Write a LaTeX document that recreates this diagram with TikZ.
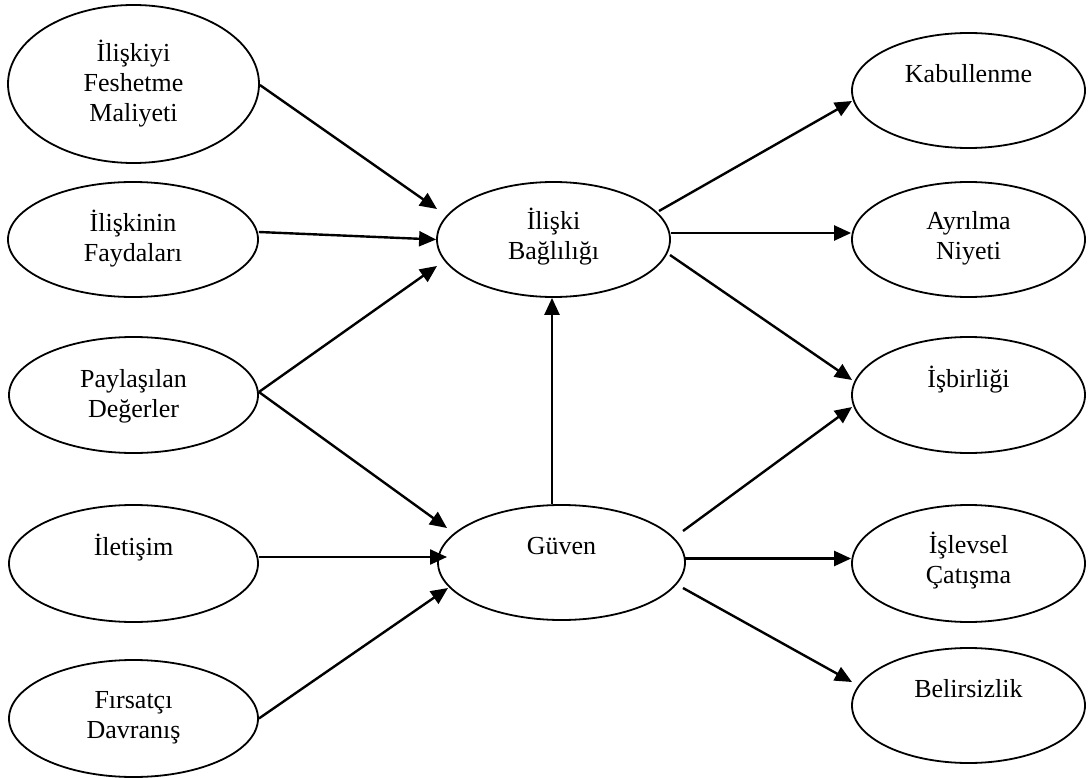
\documentclass[tikz,border=0pt]{standalone}
\usepackage{fontspec}
\setmainfont{Liberation Serif}
\usetikzlibrary{shapes.geometric,arrows.meta,calc}
% centred lines, the box baseline being that of the first line
\newcommand\ovaltext[1]{\vtop{\halign{\hfil##\hfil\cr#1\crcr}}}
\begin{document}
\begin{tikzpicture}[x=1pt,y=-1pt,
  oval/.style={draw,ellipse,line width=1.8pt,inner sep=0pt,minimum width=233pt,minimum height=115pt},
  lbl/.style={anchor=base,inner sep=0pt,font=\fontsize{26}{30}\selectfont},
  link/.style={line width=2.4pt,-{Triangle[length=17pt,width=15pt]}}]
\useasboundingbox (0,0) rectangle (1090,778);

% antecedents
\node[oval,minimum width=251pt,minimum height=158pt] (fes) at (133.5,84) {};
\node[oval,minimum width=250pt] (fay) at (133,239.5) {};
\node[oval,minimum width=249pt,minimum height=116pt] (pay) at (133.5,395) {};
\node[oval,minimum width=249pt,minimum height=117pt] (ile) at (133.5,563.5) {};
\node[oval,minimum width=249pt,minimum height=117pt] (fir) at (133.5,718.5) {};

% mediators
\node[oval] (bag) at (553.5,239.5) {};
\node[oval,minimum width=247pt] (guv) at (561.5,562.5) {};

% outcomes
\node[oval] (kab) at (968.5,90.5) {};
\node[oval] (ayr) at (968.5,239.5) {};
\node[oval,minimum height=116pt] (isb) at (968.5,395) {};
\node[oval,minimum height=117pt] (isl) at (968.5,563.5) {};
\node[oval] (bel) at (968.5,705.5) {};

% texts
\node[lbl] (fes-t) at ($(fes.center)+(0,-22)$) {\ovaltext{İlişkiyi\cr Feshetme\cr Maliyeti}};
\node[lbl] (fay-t) at ($(fay.center)+(0,-8)$) {\ovaltext{İlişkinin\cr Faydaları}};
\node[lbl] (pay-t) at ($(pay.center)+(0,-8)$) {\ovaltext{Paylaşılan\cr Değerler}};
\node[lbl] (ile-t) at ($(ile.center)+(0,-8)$) {İletişim};
\node[lbl] (fir-t) at ($(fir.center)+(0,-10)$) {\ovaltext{Fırsatçı\cr Davranış}};
\node[lbl] (bag-t) at ($(bag.center)+(0,-9.5)$) {\ovaltext{İlişki\cr Bağlılığı}};
\node[lbl] (guv-t) at ($(guv.center)+(0,-8.5)$) {Güven};
\node[lbl] (kab-t) at ($(kab.center)+(0,-8)$) {Kabullenme};
\node[lbl] (ayr-t) at ($(ayr.center)+(0,-9.5)$) {\ovaltext{Ayrılma\cr Niyeti}};
\node[lbl] (isb-t) at ($(isb.center)+(0,-8)$) {İşbirliği};
\node[lbl] (isl-t) at ($(isl.center)+(0,-10)$) {\ovaltext{İşlevsel\cr Çatışma}};
\node[lbl] (bel-t) at ($(bel.center)+(0,-8.5)$) {Belirsizlik};

% paths into the relationship commitment
\draw[link] ($(fes.east)+(0,1)$) -- ($(bag.center)+(-116.5,-30.5)$);
\draw[link] ($(fay.east)+(0,-7.5)$) -- (bag.west);
\draw[link] ($(pay.east)+(0,-3)$) -- ($(bag.center)+(-116.5,26.5)$);

% paths into trust
\draw[link] ($(pay.east)+(0,-3)$) -- ($(guv.center)+(-114.5,-34.5)$);
\draw[link] ($(ile.east)+(0,-6.5)$) -- ($(guv.center)+(-114.5,-5.5)$);
\draw[link] (fir.east) -- ($(guv.center)+(-113.5,25.5)$);

% trust to commitment
\draw[link] ($(guv.north)+(-9.5,0)$) -- ($(bag.south)+(-1.5,0)$);

% outcomes of commitment
\draw[link] ($(bag.center)+(105.5,-28.5)$) -- ($(kab.center)+(-116.5,10.5)$);
\draw[link] ($(bag.east)+(0,-6.5)$) -- ($(ayr.west)+(0,-6.5)$);
\draw[link] ($(bag.center)+(116.5,15.5)$) -- ($(isb.center)+(-116.5,-15)$);

% outcomes of trust
\draw[link] ($(guv.center)+(121.5,-31.5)$) -- ($(isb.center)+(-116.5,12)$);
\draw[link] ($(guv.east)+(-1,-4)$) -- ($(isl.west)+(0,-5)$);
\draw[link] ($(guv.center)+(121.5,25.5)$) -- ($(bel.center)+(-116.5,-23.5)$);
\end{tikzpicture}
\end{document}
